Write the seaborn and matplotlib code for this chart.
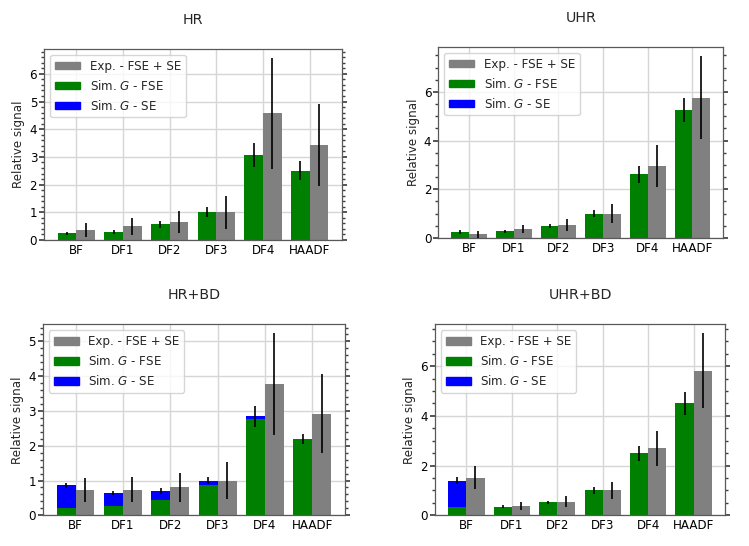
import numpy as np
import pandas as pd
import matplotlib
matplotlib.use("Agg")
import matplotlib.pyplot as plt
from matplotlib.patches import Patch
from matplotlib.ticker import AutoMinorLocator, MultipleLocator
import seaborn as sns

categories = ['BF', 'DF1', 'DF2', 'DF3', 'DF4', 'HAADF']

# HR
hr_fse = [0.24, 0.28, 0.57, 1.00, 3.06, 2.51]
hr_se = [0.0, 0.0, 0.0, 0.0, 0.0, 0.0]
hr_sim_err = [0.06, 0.07, 0.12, 0.18, 0.44, 0.33]
hr_exp = [0.36, 0.50, 0.65, 1.00, 4.57, 3.42]
hr_exp_err = [0.26, 0.31, 0.40, 0.60, 2.00, 1.48]

# UHR
uhr_fse = [0.25, 0.27, 0.50, 1.00, 2.61, 5.27]
uhr_se = [0.0, 0.0, 0.0, 0.0, 0.0, 0.0]
uhr_sim_err = [0.07, 0.05, 0.09, 0.13, 0.34, 0.50]
uhr_exp = [0.16, 0.37, 0.53, 1.00, 2.97, 5.77]
uhr_exp_err = [0.14, 0.16, 0.25, 0.40, 0.86, 1.70]

# HR+BD
hrbd_fse = [0.21, 0.27, 0.45, 0.87, 2.77, 2.20]
hrbd_se = [0.65, 0.37, 0.25, 0.12, 0.08, 0.0]
hrbd_sim_err = [0.08, 0.07, 0.08, 0.10, 0.30, 0.15]
hrbd_exp = [0.72, 0.73, 0.80, 1.00, 3.77, 2.92]
hrbd_exp_err = [0.35, 0.36, 0.41, 0.53, 1.46, 1.13]

# UHR+BD
uhrbd_fse = [0.35, 0.35, 0.52, 1.00, 2.50, 4.50]
uhrbd_se = [1.04, 0.0, 0.0, 0.0, 0.0, 0.0]
uhrbd_sim_err = [0.14, 0.05, 0.07, 0.13, 0.30, 0.45]
uhrbd_exp = [1.52, 0.37, 0.55, 1.00, 2.70, 5.82]
uhrbd_exp_err = [0.47, 0.15, 0.22, 0.35, 0.70, 1.50]

titles = ['HR', 'UHR', 'HR+BD', 'UHR+BD']
legend_labels = ['Exp. - FSE + SE', 'Sim. $G$ - FSE', 'Sim. $G$ - SE']

panels = [
    (hr_fse, hr_se, hr_sim_err, hr_exp, hr_exp_err),
    (uhr_fse, uhr_se, uhr_sim_err, uhr_exp, uhr_exp_err),
    (hrbd_fse, hrbd_se, hrbd_sim_err, hrbd_exp, hrbd_exp_err),
    (uhrbd_fse, uhrbd_se, uhrbd_sim_err, uhrbd_exp, uhrbd_exp_err),
]
ytick_steps = [1, 2, 1, 2]

sns.set_theme(style="ticks")
plt.rcParams['font.family'] = ['DejaVu Sans']
plt.rcParams.update({
    'axes.edgecolor': '0.35',
    'axes.linewidth': 0.9,
    'xtick.color': '0.25',
    'ytick.color': '0.25',
    'xtick.labelcolor': 'black',
    'ytick.labelcolor': 'black',
})

fig = plt.figure(figsize=(7.49, 5.46), dpi=100)
rects = [
    [0.0590, 0.5604, 0.3976, 0.3499],
    [0.5852, 0.5641, 0.3805, 0.3498],
    [0.0572, 0.0562, 0.4034, 0.3498],
    [0.5808, 0.0562, 0.3872, 0.3498],
]

hue_order = ['Sim', 'Exp']
fs = 8.6

for rect, title, step, (fse, se, sim_err, exp, exp_err) in zip(rects, titles, ytick_steps, panels):
    ax = fig.add_axes(rect)
    total = [f + s for f, s in zip(fse, se)]
    df_top = pd.DataFrame({
        'cat': categories * 2,
        'series': ['Sim'] * len(categories) + ['Exp'] * len(categories),
        'value': total + exp,
    })
    df_fse = pd.DataFrame({
        'cat': categories * 2,
        'series': ['Sim'] * len(categories) + ['Exp'] * len(categories),
        'value': list(fse) + list(exp),
    })
    ax.set_axisbelow(True)
    sns.barplot(data=df_top, x='cat', y='value', hue='series', hue_order=hue_order,
                order=categories, palette={'Sim': 'blue', 'Exp': 'gray'},
                saturation=1, errorbar=None, width=0.8, linewidth=0,
                legend=False, ax=ax)
    sns.barplot(data=df_fse, x='cat', y='value', hue='series', hue_order=hue_order,
                order=categories, palette={'Sim': 'green', 'Exp': 'gray'},
                saturation=1, errorbar=None, width=0.8, linewidth=0,
                legend=False, ax=ax)
    sim_bars = ax.containers[0]
    exp_bars = ax.containers[1]
    sim_x = [p.get_x() + p.get_width() / 2 for p in sim_bars]
    exp_x = [p.get_x() + p.get_width() / 2 for p in exp_bars]
    ax.errorbar(sim_x, total, yerr=sim_err, fmt='none', ecolor='black',
                elinewidth=1.2, capsize=0, zorder=5)
    ax.errorbar(exp_x, exp, yerr=exp_err, fmt='none', ecolor='black',
                elinewidth=1.2, capsize=0, zorder=5)

    ax.set_ylim(bottom=0)
    ax.set_xlabel('')
    ax.set_ylabel('Relative signal', fontsize=fs, labelpad=3)
    ax.set_title(title, fontsize=10.3, pad=18)
    ax.yaxis.set_major_locator(MultipleLocator(step))
    ax.yaxis.set_minor_locator(AutoMinorLocator())
    ax.tick_params(axis='y', which='both', right=True, direction='out', labelsize=fs, pad=1.5)
    ax.tick_params(axis='y', which='major', length=3.5)
    ax.tick_params(axis='y', which='minor', length=2)
    ax.tick_params(axis='x', labelsize=fs, length=0, pad=3)
    ax.grid(True, which='major', color='#d6d6d6', linewidth=1.0)
    for sp in ax.spines.values():
        sp.set_visible(True)

    handles = [Patch(color='gray'), Patch(color='green'), Patch(color='blue')]
    ax.legend(handles, legend_labels, loc='upper left', fontsize=fs,
              handlelength=2.1, handleheight=0.6, frameon=True, fancybox=True,
              framealpha=0.8, edgecolor='#cccccc')

fig.savefig('out.png', dpi=100)
